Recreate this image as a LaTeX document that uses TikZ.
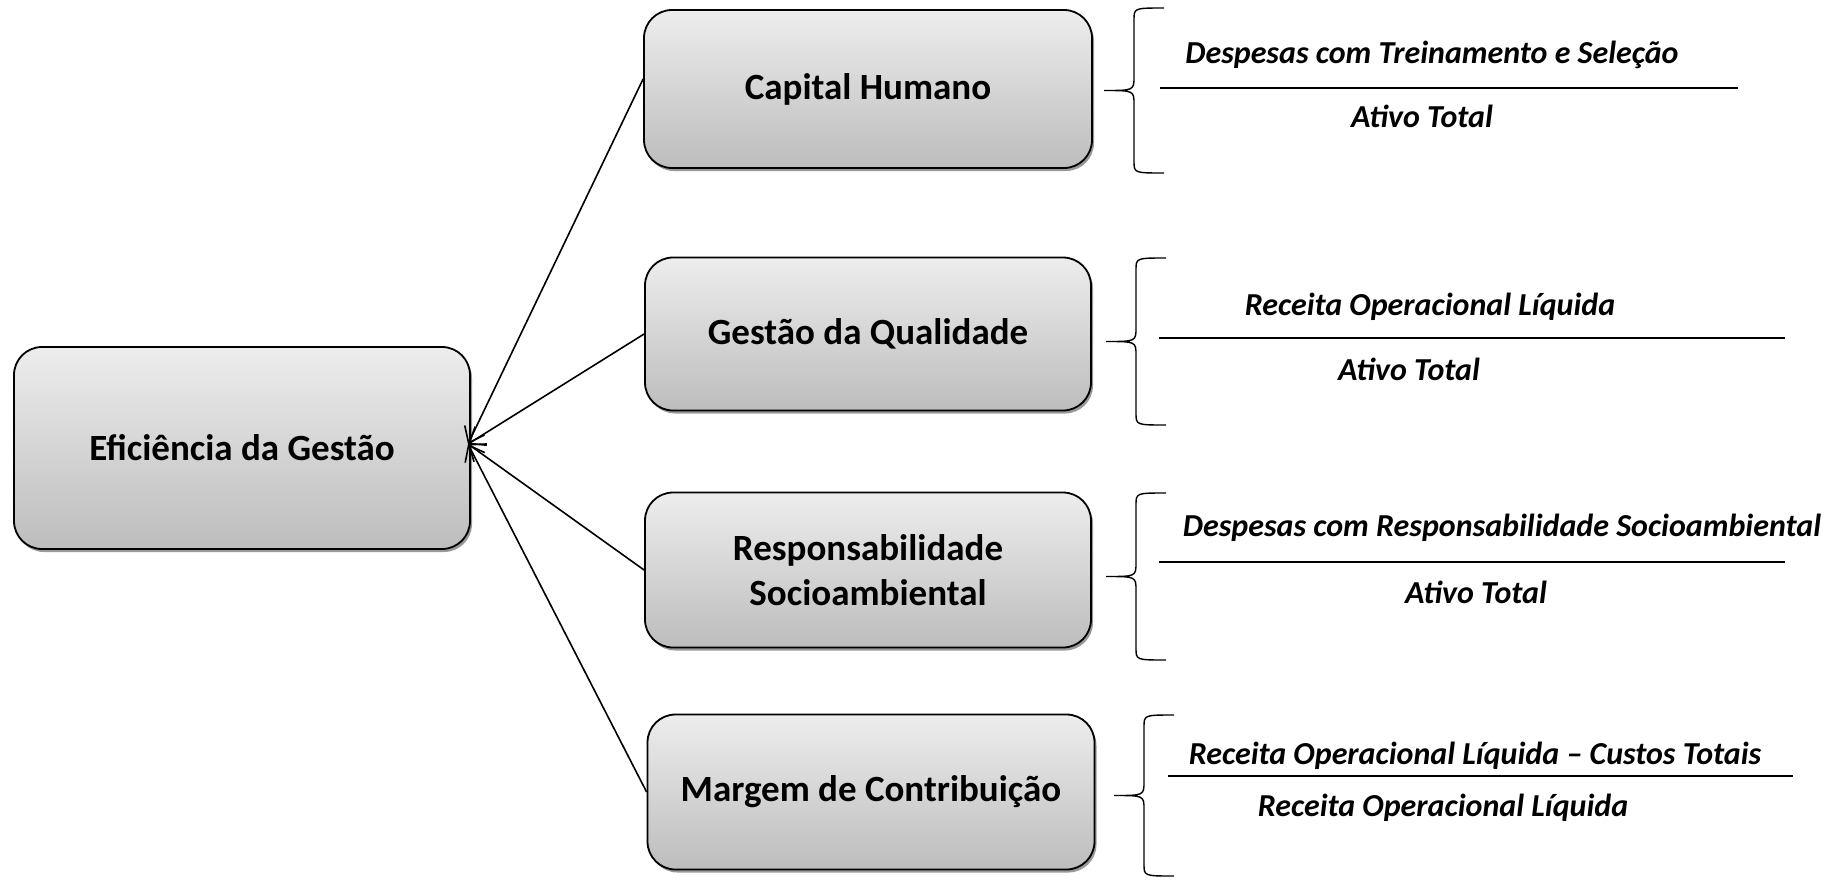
\documentclass[tikz,border=0pt]{standalone}
\usepackage{fontspec}
\setmainfont{Carlito}
\usetikzlibrary{arrows.meta,shadows}

\tikzset{
  mainbox/.style={draw=black, line width=1.8pt, rounded corners=28pt,
    top color=black!7, bottom color=black!26,
    drop shadow={shadow xshift=2pt, shadow yshift=-3pt, fill=black!50, opacity=0.8},
    align=center, inner sep=0pt, font=\fontsize{37}{45}\selectfont\bfseries},
  ratio/.style={inner sep=0pt, font=\fontsize{32}{38}\selectfont\bfseries\itshape},
  fracline/.style={line width=1.4pt},
  bracket/.style={line width=1.4pt},
  link/.style={line width=1.6pt, -{Straight Barb[length=14pt,width=22pt,line width=1.6pt]}}
}

% brace: #1 = x of the ends, #2 = top, #3 = bottom
\newcommand{\fracbrace}[3]{%
  \draw[bracket] (#1,#2) .. controls ({#1-30},#2) .. ({#1-30},{#2+12})
    -- ({#1-30},{(#2+#3)/2-14}) .. controls ({#1-30},{(#2+#3)/2}) .. ({#1-60},{(#2+#3)/2})
    .. controls ({#1-30},{(#2+#3)/2}) .. ({#1-30},{(#2+#3)/2+14})
    -- ({#1-30},{#3-12}) .. controls ({#1-30},#3) .. (#1,#3);}

\begin{document}
\begin{tikzpicture}[x=1pt,y=-1pt]
\useasboundingbox (0,0) rectangle (1832,879);

% Boxes
\node[mainbox, minimum width=456pt, minimum height=202pt] (eff) at (242,448) {Efici\^encia da Gest\~ao};
\node[mainbox, minimum width=448pt, minimum height=158pt] (cap) at (868,89) {Capital Humano};
\node[mainbox, minimum width=446pt, minimum height=153pt] (qual) at (868,334) {Gest\~ao da Qualidade};
\node[mainbox, minimum width=446pt, minimum height=155pt] (resp) at (868,570) {Responsabilidade\\Socioambiental};
\node[mainbox, minimum width=447pt, minimum height=155pt] (marg) at (871,792) {Margem de Contribui\c{c}\~ao};

% Connectors into the left box
\coordinate (hub) at (468,444);
\draw[link] ([yshift=10pt]cap.west) -- (hub);
\draw[link] (qual.west) -- (hub);
\draw[link] (resp.west) -- (hub);
\draw[link] (marg.west) -- (hub);

% Braces
\fracbrace{1164}{8}{173}
\fracbrace{1166}{258}{425}
\fracbrace{1166}{493}{660}
\fracbrace{1174}{715}{876}

% Ratios
\node[ratio] (num1) at (1432,55) {Despesas com Treinamento e Sele\c{c}\~ao};
\draw[fracline] (1160,88) -- (1738,88);
\node[ratio] (den1) at (1422,116) {Ativo Total};

\node[ratio] (num2) at (1430,307) {Receita Operacional L\'iquida};
\draw[fracline] (1159,338) -- (1785,338);
\node[ratio] (den2) at (1409,369) {Ativo Total};

\node[ratio] (num3) at (1502,528) {Despesas com Responsabilidade Socioambiental};
\draw[fracline] (1159,562) -- (1785,562);
\node[ratio] (den3) at (1476,592) {Ativo Total};

\node[ratio] (num4) at (1475,756) {Receita Operacional L\'iquida -- Custos Totais};
\draw[fracline] (1168,776) -- (1793,776);
\node[ratio] (den4) at (1443,808) {Receita Operacional L\'iquida};
\end{tikzpicture}
\end{document}
